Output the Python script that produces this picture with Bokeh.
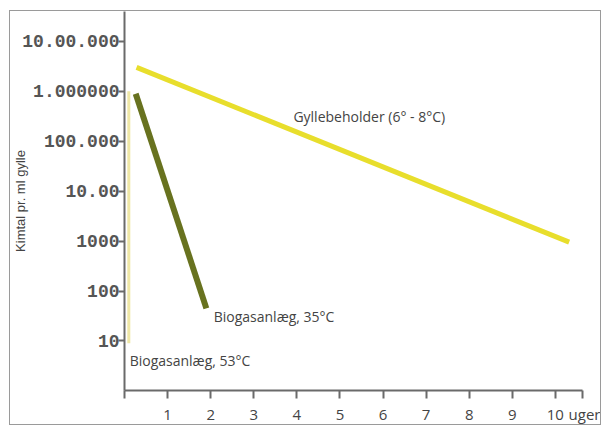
from bokeh.plotting import figure
from bokeh.models import Range1d, FixedTicker
from bokeh.core.properties import value
from bokeh.embed import file_html
from bokeh.resources import INLINE

# data
weeks_gylle = [0.28, 10.32]
kim_gylle = [3.0e6, 950]
weeks_35 = [0.26, 1.9]
kim_35 = [8.9e5, 45]
weeks_53 = [0.1, 0.1]
kim_53 = [1.0e6, 9]

x_ticks = [0, 1, 2, 3, 4, 5, 6, 7, 8, 9, 10, 10.62]
x_tick_labels = ["", "1", "2", "3", "4", "5", "6", "7", "8", "9", "10", "\u2003\u2002uger"]
y_ticks = [10, 100, 1000, 10000, 100000, 1000000, 10000000]
y_tick_labels = ["10", "100", "1000", "10.00", "100.000", "1.000000", "10.00.000"]

label_gylle = "Gyllebeholder (6° - 8°C)"
label_35 = "Biogasanlæg, 35°C"
label_53 = "Biogasanlæg, 53°C"
y_title = "Kimtal pr. ml gylle"

p = figure(width=592, height=415, y_axis_type="log",
           x_range=Range1d(0, 10.63), y_range=Range1d(1.02, 3.93e7),
           output_backend="svg", toolbar_location=None,
           min_border_left=114, min_border_right=20, min_border_top=0, min_border_bottom=33)
p.styles = {"border": "1px solid #9a9a9a", "margin-left": "9px", "margin-top": "10px"}
p.outline_line_color = None
p.grid.visible = False
p.background_fill_color = "white"
p.border_fill_color = "white"

# axes
p.xaxis.ticker = FixedTicker(ticks=x_ticks)
p.xaxis.major_label_overrides = {t: l for t, l in zip(x_ticks, x_tick_labels)}
p.xaxis.minor_tick_line_color = None
p.xaxis.major_tick_in = 0
p.xaxis.major_tick_out = 8
p.xaxis.major_label_standoff = 5
p.xaxis.axis_line_color = "#6a6a6a"
p.xaxis.axis_line_width = 2
p.xaxis.major_tick_line_color = "#6a6a6a"
p.xaxis.major_tick_line_width = 2
p.xaxis.major_label_text_font = "Open Sans"
p.xaxis.major_label_text_font_size = "15px"
p.xaxis.major_label_text_color = "#444444"

p.yaxis.ticker = FixedTicker(ticks=y_ticks)
p.yaxis.major_label_overrides = {t: l for t, l in zip(y_ticks, y_tick_labels)}
p.yaxis.minor_tick_line_color = None
p.yaxis.major_tick_in = 0
p.yaxis.major_tick_out = 6
p.yaxis.major_label_standoff = -1
p.yaxis.axis_line_color = "#6a6a6a"
p.yaxis.axis_line_width = 2
p.yaxis.major_tick_line_color = "#6a6a6a"
p.yaxis.major_tick_line_width = 2
p.yaxis.major_label_text_font = "Liberation Mono"
p.yaxis.major_label_text_font_size = "18px"
p.yaxis.major_label_text_font_style = "bold"
p.yaxis.major_label_text_color = "#555555"
p.yaxis.axis_label = y_title
p.yaxis.axis_label_standoff = -9
p.yaxis.axis_label_text_font = "Liberation Sans"
p.yaxis.axis_label_text_font_size = "13px"
p.yaxis.axis_label_text_font_style = "normal"
p.yaxis.axis_label_text_color = "#444444"

# lines
p.line(weeks_53, kim_53, line_color="#efe7a6", line_width=3)
p.line(weeks_gylle, kim_gylle, line_color="#e8de2c", line_width=5)
p.line(weeks_35, kim_35, line_color="#68721f", line_width=6)

# labels
txt = dict(text_font=value("Open Sans"), text_color="#444444", text_baseline="middle")
p.text(x=[3.92], y=[3.1e5], text=[label_gylle], text_font_size="14px", **txt)
p.text(x=[2.07], y=[31], text=[label_35], text_font_size="14px", **txt)
p.text(x=[0.12], y=[4.0], text=[label_53], text_font_size="14px", **txt)

open("out.html", "w").write(file_html(p, INLINE))
